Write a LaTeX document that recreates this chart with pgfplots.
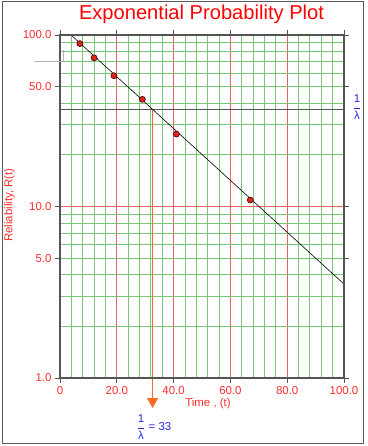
\documentclass[border=0pt]{standalone}
\usepackage{pgfplots}
\pgfplotsset{compat=1.18}
\usepackage{fontspec}
\setmainfont{Liberation Sans}
\usetikzlibrary{arrows.meta}
\definecolor{gridgreen}{RGB}{120,200,120}
\definecolor{gridred}{RGB}{232,100,100}
\definecolor{labred}{RGB}{255,45,45}
\definecolor{axgray}{RGB}{85,85,85}
\definecolor{ptred}{RGB}{225,35,30}
\definecolor{arrorange}{RGB}{245,110,40}
\definecolor{lamblue}{RGB}{40,40,230}
\begin{document}
\begin{tikzpicture}[x=1bp,y=1bp]
\path[use as bounding box] (-60,-68) rectangle (307,378);
\draw[gray!70!black, line width=1bp] (-57,376) rectangle (303,-65);
\begin{axis}[
 at={(0,0)}, anchor=south west,
 scale only axis, width=284bp, height=343bp,
 xmin=0, xmax=100, ymode=log, ymin=1, ymax=100,
 clip=false, axis on top,
 axis line style={axgray, line width=1.3bp},
 xtick={0,20,40,60,80,100},
 xticklabels={0,20.0,40.0,60.0,80.0,100.0},
 ytick={1,5,10,50,100}, yticklabels={1.0,5.0,10.0,50.0,100.0},
 minor tick num=0,
 tick align=outside, major tick length=5bp,
 tick style={axgray, line width=0.9bp},
 ticklabel style={font=\fontsize{11.5}{13}\selectfont, text=labred},
 /pgf/number format/assume math mode=true,
]
\pgfplotsinvokeforeach{4,8,12,16,24,28,32,36,44,48,52,56,64,68,72,76,84,88,92,96}{
 \addplot[gridgreen, line width=0.9bp, forget plot] coordinates {(#1,1) (#1,100)};
}
\pgfplotsinvokeforeach{20,40,60,80}{
 \addplot[gridred, line width=0.9bp, forget plot] coordinates {(#1,1) (#1,100)};
}
\pgfplotsinvokeforeach{2,3,4,5,6,7,8,9,20,30,40,50,60,70,80,90}{
 \addplot[gridgreen, line width=0.9bp, forget plot] coordinates {(0,#1) (100,#1)};
}
\addplot[gridred, line width=0.9bp, forget plot] coordinates {(-1.8,10) (100,10)};
\addplot[gridgreen, line width=0.9bp, forget plot] coordinates {(-1.8,5) (0,5)};
\addplot[axgray, line width=1.3bp] coordinates {(0,36.79) (100,36.79)};
\addplot[arrorange, line width=1.3bp, -{Triangle[width=11bp,length=10bp]}] coordinates {(32.6,36.79) (32.6,0.668)};
\addplot[black, line width=0.6bp] coordinates {(3.9,100) (100,3.53)};
\addplot[only marks, mark=*, mark size=3bp, mark options={fill=ptred, draw=black!75!red, line width=0.6bp}] coordinates {(7,89.09) (12,73.56) (19,57.86) (29,42.14) (41,26.44) (67,10.91)};
\end{axis}
\draw[gray!60, line width=1bp] (-25,316.5) -- (3,316.5) -- (3,328);
\node[anchor=base, text={rgb,255:red,255;green,0;blue,0}, font=\fontsize{20.2}{24}\selectfont] at (141.5,358.5) {Exponential Probability Plot};
\node[rotate=90, text=labred, font=\fontsize{11.5}{13}\selectfont] at (-50.5,173) {Reliability, R(t)};
\node[text=labred, font=\fontsize{11.5}{13}\selectfont] at (148,-26) {Time , (t)};
\node[text=lamblue, font=\fontsize{11.5}{13}\selectfont] at (297,271) {$\displaystyle\frac{\mbox{1}}{\mbox{λ}}$};
\node[text=lamblue, font=\fontsize{11.5}{13}\selectfont] at (94,-49) {$\displaystyle\frac{\mbox{1}}{\mbox{λ}}$ = 33};
\end{tikzpicture}
\end{document}
